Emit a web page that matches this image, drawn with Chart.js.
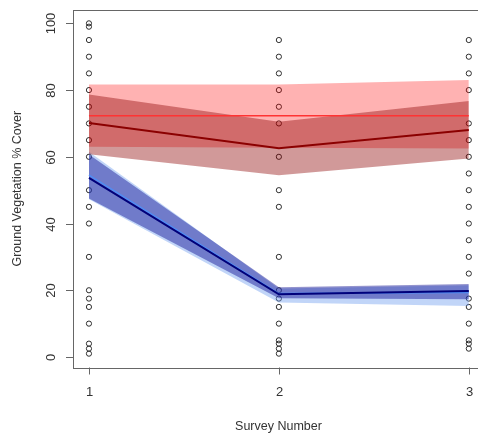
<!DOCTYPE html>
<html>
<head>
<meta charset="utf-8">
<script src="https://cdn.jsdelivr.net/npm/chart.js@4.4.0/dist/chart.umd.min.js"></script>
<style>
  html, body { margin: 0; padding: 0; background: #fff; overflow: hidden; }
  #wrap { width: 478px; height: 437px; overflow: hidden; }
</style>
</head>
<body>
<div id="wrap"><canvas id="cover" width="490" height="437"></canvas></div>
<script>
// survey numbers on the x axis
var surveys = [1, 2, 3];
var yTicks = [0, 20, 40, 60, 80, 100];

// raw % cover observations per survey
var cover1 = [100, 99, 95, 90, 85, 80, 75, 70, 65, 60, 50, 45, 40, 30, 20, 17.5, 15, 10, 4, 2.5, 1];
var cover2 = [95, 90, 85, 80, 75, 70, 60, 50, 45, 30, 20, 17.5, 15, 10, 5, 4, 2.5, 1];
var cover3 = [95, 90, 85, 80, 70, 65, 60, 55, 50, 45, 40, 35, 30, 25, 17.5, 15, 10, 5, 4, 2.5];

// red group: flat model and per-survey model
var redFlatMean = [72.3, 72.3, 72.3];
var redFlatLow = [63, 62.7, 62.5];
var redFlatHigh = [81.7, 81.7, 83];
var redMean = [70.1, 62.6, 68];
var redLow = [60.8, 54.5, 59.5];
var redHigh = [78.7, 70.5, 76.7];

// blue group: two fits
var blueAMean = [54.5, 19.0, 19.3];
var blueALow = [47.3, 16.3, 15.3];
var blueAHigh = [61.5, 20.5, 21.5];
var blueMean = [53.7, 18.8, 19.8];
var blueLow = [47.5, 17.6, 17.3];
var blueHigh = [60.7, 20.9, 21.9];

function xy(vals) {
  return surveys.map(function (s, i) { return { x: s, y: vals[i] }; });
}

var points = [];
[cover1, cover2, cover3].forEach(function (arr, i) {
  arr.forEach(function (v) { points.push({ x: surveys[i], y: v }); });
});

function band(vals, fillCol, fill, order) {
  return {
    type: 'line', data: xy(vals), borderWidth: 0, borderColor: 'rgba(0,0,0,0)',
    backgroundColor: fillCol, pointRadius: 0, fill: fill, order: order, tension: 0
  };
}
function meanLine(vals, col, w, order) {
  return {
    type: 'line', data: xy(vals), borderColor: col, borderWidth: w,
    pointRadius: 0, fill: false, order: order, tension: 0
  };
}

var datasets = [
  { type: 'scatter', data: points, pointRadius: 2.6, pointBorderWidth: 1,
    pointBorderColor: '#2e2e2e', pointBackgroundColor: 'rgba(0,0,0,0)', order: 20 },
  band(blueAHigh, 'rgba(100,149,237,0.4)', '+1', 19),
  band(blueALow, 'rgba(0,0,0,0)', false, 19),
  band(blueHigh, 'rgba(0,0,139,0.42)', '+1', 18),
  band(blueLow, 'rgba(0,0,0,0)', false, 18),
  band(redFlatHigh, 'rgba(255,0,0,0.3)', '+1', 17),
  band(redFlatLow, 'rgba(0,0,0,0)', false, 17),
  band(redHigh, 'rgba(139,0,0,0.4)', '+1', 16),
  band(redLow, 'rgba(0,0,0,0)', false, 16),
  meanLine(blueAMean, '#4f8cf5', 1.5, 5),
  meanLine(blueMean, '#00007a', 2, 4),
  meanLine(redFlatMean, '#ff3333', 1.5, 3),
  meanLine(redMean, '#8b0000', 2, 2)
];

// base-graphics style frame, ticks and titles
var rAxes = {
  id: 'rAxes',
  afterDraw: function (chart) {
    var c = chart.ctx, a = chart.chartArea;
    var xs = chart.scales.x, ys = chart.scales.y;
    c.save();
    c.strokeStyle = '#666';
    c.lineWidth = 1;
    c.strokeRect(Math.round(a.left) + 0.5, Math.round(a.top) + 0.5,
      Math.round(a.right - a.left), Math.round(a.bottom - a.top));
    c.fillStyle = '#333';
    c.font = '13px "Liberation Sans", Arial, sans-serif';
    c.textAlign = 'center';
    c.textBaseline = 'middle';
    yTicks.forEach(function (t) {
      var py = Math.round(ys.getPixelForValue(t)) + 0.5;
      c.beginPath();
      c.moveTo(a.left - 7, py);
      c.lineTo(a.left, py);
      c.stroke();
      c.save();
      c.translate(a.left - 22, py);
      c.rotate(-Math.PI / 2);
      c.fillText(String(t), 0, 0);
      c.restore();
    });
    surveys.forEach(function (s) {
      var px = Math.round(xs.getPixelForValue(s)) + 0.5;
      c.beginPath();
      c.moveTo(px, a.bottom);
      c.lineTo(px, a.bottom + 7);
      c.stroke();
      c.fillText(String(s), px, a.bottom + 25);
    });
    c.font = '12.5px "Liberation Sans", Arial, sans-serif';
    c.fillText('Survey Number', (a.left + a.right) / 2, a.bottom + 59);
    c.save();
    c.translate(18, (a.top + a.bottom) / 2);
    c.rotate(-Math.PI / 2);
    c.fillText('Ground Vegetation % Cover', 0, 0);
    c.restore();
    c.restore();
  }
};

var ctx = document.getElementById('cover');
new Chart(ctx, {
  data: { datasets: datasets },
  options: {
    responsive: false,
    animation: false,
    devicePixelRatio: 1,
    layout: { padding: { left: 73, top: 10, right: 6, bottom: 69.5 } },
    plugins: { legend: { display: false }, tooltip: { enabled: false } },
    scales: {
      x: { type: 'linear', min: 0.916, max: 3.08, display: false },
      y: { type: 'linear', min: -3.15, max: 104, display: false }
    }
  },
  plugins: [rAxes]
});
</script>
</body>
</html>
